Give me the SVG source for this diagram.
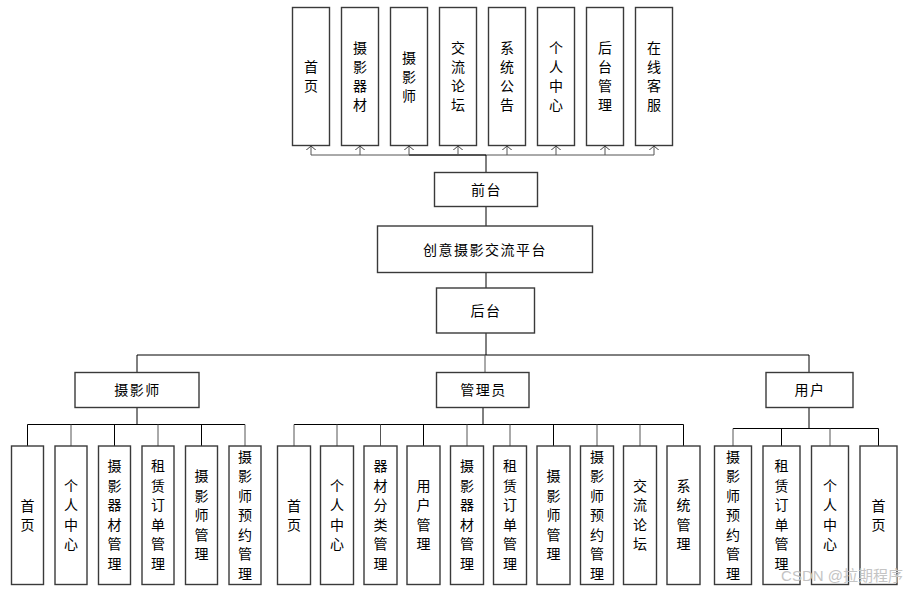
<svg xmlns="http://www.w3.org/2000/svg" width="920" height="593" viewBox="0 0 920 593">
<style>
.box{fill:#fff;stroke:#3a3a3a;stroke-width:1.4}
.t{font-family:"Noto Sans CJK SC","Liberation Sans",sans-serif;font-size:14px;fill:#000;text-anchor:middle}
.h{letter-spacing:1.5px}
.ln{stroke:#000;stroke-width:1;fill:none}
.lg{stroke:#555;stroke-width:1;fill:none}
.wm{font-family:"Liberation Sans","Noto Sans CJK SC",sans-serif;font-size:15px;fill:#c4c4c4;text-anchor:end}
</style>
<defs>
<marker id="arr" viewBox="0 0 4.5 10" refX="4.3" refY="5" markerWidth="4.5" markerHeight="10" markerUnits="userSpaceOnUse" orient="auto">
<path d="M0,0 L4.3,5 L0,10" fill="none" stroke="#444" stroke-width="1"/>
</marker>
</defs>
<rect width="920" height="593" fill="#fff"/>
<g id="connectors">
<line class="lg" x1="311" y1="155" x2="654" y2="155"/>
<line class="ln" x1="409" y1="155" x2="486" y2="155" stroke-width="1.5"/>
<line class="ln" x1="486" y1="172.5" x2="486" y2="155" stroke-width="2.5"/>
<line class="lg" x1="311" y1="155" x2="311" y2="146" marker-end="url(#arr)"/>
<line class="lg" x1="360" y1="155" x2="360" y2="146" marker-end="url(#arr)"/>
<line class="lg" x1="409" y1="155" x2="409" y2="146" marker-end="url(#arr)"/>
<line class="lg" x1="458" y1="155" x2="458" y2="146" marker-end="url(#arr)"/>
<line class="lg" x1="507" y1="155" x2="507" y2="146" marker-end="url(#arr)"/>
<line class="lg" x1="556" y1="155" x2="556" y2="146" marker-end="url(#arr)"/>
<line class="lg" x1="605" y1="155" x2="605" y2="146" marker-end="url(#arr)"/>
<line class="lg" x1="654" y1="155" x2="654" y2="146" marker-end="url(#arr)"/>
<line class="ln" x1="486" y1="206.5" x2="486" y2="226"/>
<line class="ln" x1="486" y1="272.5" x2="486" y2="288"/>
<line class="ln" x1="486" y1="333" x2="486" y2="355"/>
<line class="ln" x1="137" y1="355" x2="809" y2="355"/>
<line class="ln" x1="137" y1="355" x2="137" y2="372.5"/>
<line class="lg" x1="485" y1="355" x2="485" y2="372.5"/>
<line class="ln" x1="809" y1="355" x2="809" y2="372.5"/>
<line class="ln" x1="137" y1="407.5" x2="137" y2="424.5" stroke-width="1.8"/>
<line class="ln" x1="27.5" y1="424.5" x2="245" y2="424.5"/>
<line class="ln" x1="27.5" y1="424.5" x2="27.5" y2="446"/>
<line class="lg" x1="71" y1="424.5" x2="71" y2="446"/>
<line class="ln" x1="114.5" y1="424.5" x2="114.5" y2="446"/>
<line class="lg" x1="158" y1="424.5" x2="158" y2="446"/>
<line class="ln" x1="201.5" y1="424.5" x2="201.5" y2="446"/>
<line class="lg" x1="245" y1="424.5" x2="245" y2="446"/>
<line class="ln" x1="483" y1="407.5" x2="483" y2="424.5" stroke-width="2"/>
<line class="ln" x1="294" y1="424.5" x2="683.5" y2="424.5"/>
<line class="lg" x1="294" y1="424.5" x2="294" y2="446"/>
<line class="lg" x1="337" y1="424.5" x2="337" y2="446"/>
<line class="lg" x1="380.5" y1="424.5" x2="380.5" y2="446"/>
<line class="ln" x1="423.5" y1="424.5" x2="423.5" y2="446"/>
<line class="lg" x1="467" y1="424.5" x2="467" y2="446"/>
<line class="lg" x1="510" y1="424.5" x2="510" y2="446"/>
<line class="ln" x1="553.5" y1="424.5" x2="553.5" y2="446"/>
<line class="lg" x1="597" y1="424.5" x2="597" y2="446"/>
<line class="lg" x1="640" y1="424.5" x2="640" y2="446"/>
<line class="ln" x1="683.5" y1="424.5" x2="683.5" y2="446"/>
<line class="ln" x1="809" y1="407.5" x2="809" y2="428.5" stroke-width="1.5"/>
<line class="ln" x1="733" y1="428.5" x2="878.5" y2="428.5"/>
<line class="lg" x1="733" y1="428.5" x2="733" y2="446"/>
<line class="ln" x1="781.5" y1="428.5" x2="781.5" y2="446"/>
<line class="lg" x1="830" y1="428.5" x2="830" y2="446"/>
<line class="ln" x1="878.5" y1="428.5" x2="878.5" y2="446"/>
</g>
<g id="top-1"><rect class="box" x="292.5" y="7.5" width="37" height="138"/><text class="t" x="311" y="72">首<tspan x="311" dy="19">页</tspan></text></g>
<g id="top-2"><rect class="box" x="341.5" y="7.5" width="37" height="138"/><text class="t" x="360" y="53">摄<tspan x="360" dy="19">影</tspan><tspan x="360" dy="19">器</tspan><tspan x="360" dy="19">材</tspan></text></g>
<g id="top-3"><rect class="box" x="390.5" y="7.5" width="37" height="138"/><text class="t" x="409" y="62.5">摄<tspan x="409" dy="19">影</tspan><tspan x="409" dy="19">师</tspan></text></g>
<g id="top-4"><rect class="box" x="439.5" y="7.5" width="37" height="138"/><text class="t" x="458" y="53">交<tspan x="458" dy="19">流</tspan><tspan x="458" dy="19">论</tspan><tspan x="458" dy="19">坛</tspan></text></g>
<g id="top-5"><rect class="box" x="488.5" y="7.5" width="37" height="138"/><text class="t" x="507" y="53">系<tspan x="507" dy="19">统</tspan><tspan x="507" dy="19">公</tspan><tspan x="507" dy="19">告</tspan></text></g>
<g id="top-6"><rect class="box" x="537.5" y="7.5" width="37" height="138"/><text class="t" x="556" y="53">个<tspan x="556" dy="19">人</tspan><tspan x="556" dy="19">中</tspan><tspan x="556" dy="19">心</tspan></text></g>
<g id="top-7"><rect class="box" x="586.5" y="7.5" width="37" height="138"/><text class="t" x="605" y="53">后<tspan x="605" dy="19">台</tspan><tspan x="605" dy="19">管</tspan><tspan x="605" dy="19">理</tspan></text></g>
<g id="top-8"><rect class="box" x="635.5" y="7.5" width="37" height="138"/><text class="t" x="654" y="53">在<tspan x="654" dy="19">线</tspan><tspan x="654" dy="19">客</tspan><tspan x="654" dy="19">服</tspan></text></g>
<g id="qiantai"><rect class="box" x="434.5" y="172.5" width="103" height="34"/><text class="t h" x="486.5" y="194.5">前台</text></g>
<g id="platform"><rect class="box" x="377.5" y="226" width="215" height="46.5"/><text class="t h" x="485" y="254.5">创意摄影交流平台</text></g>
<g id="houtai"><rect class="box" x="436.5" y="288" width="98" height="45"/><text class="t h" x="486" y="315.5">后台</text></g>
<g id="photographer"><rect class="box" x="75" y="372.5" width="124" height="35"/><text class="t h" x="137.5" y="395">摄影师</text></g>
<g id="admin"><rect class="box" x="436.5" y="372.5" width="92.5" height="35"/><text class="t h" x="483.5" y="395">管理员</text></g>
<g id="user"><rect class="box" x="766" y="372.5" width="87" height="35"/><text class="t h" x="810" y="395">用户</text></g>
<g id="p-1"><rect class="box" x="11.5" y="446" width="32" height="138.5"/><text class="t" x="27.5" y="510.5">首<tspan x="27.5" dy="19.5">页</tspan></text></g>
<g id="p-2"><rect class="box" x="55" y="446" width="32" height="138.5"/><text class="t" x="71" y="490.75">个<tspan x="71" dy="19.5">人</tspan><tspan x="71" dy="19.5">中</tspan><tspan x="71" dy="19.5">心</tspan></text></g>
<g id="p-3"><rect class="box" x="98.5" y="446" width="32" height="138.5"/><text class="t" x="114.5" y="471.25">摄<tspan x="114.5" dy="19.5">影</tspan><tspan x="114.5" dy="19.5">器</tspan><tspan x="114.5" dy="19.5">材</tspan><tspan x="114.5" dy="19.5">管</tspan><tspan x="114.5" dy="19.5">理</tspan></text></g>
<g id="p-4"><rect class="box" x="142" y="446" width="32" height="138.5"/><text class="t" x="158" y="471.25">租<tspan x="158" dy="19.5">赁</tspan><tspan x="158" dy="19.5">订</tspan><tspan x="158" dy="19.5">单</tspan><tspan x="158" dy="19.5">管</tspan><tspan x="158" dy="19.5">理</tspan></text></g>
<g id="p-5"><rect class="box" x="185.5" y="446" width="32" height="138.5"/><text class="t" x="201.5" y="481">摄<tspan x="201.5" dy="19.5">影</tspan><tspan x="201.5" dy="19.5">师</tspan><tspan x="201.5" dy="19.5">管</tspan><tspan x="201.5" dy="19.5">理</tspan></text></g>
<g id="p-6"><rect class="box" x="229" y="446" width="32" height="138.5"/><text class="t" x="245" y="461.5">摄<tspan x="245" dy="19.5">影</tspan><tspan x="245" dy="19.5">师</tspan><tspan x="245" dy="19.5">预</tspan><tspan x="245" dy="19.5">约</tspan><tspan x="245" dy="19.5">管</tspan><tspan x="245" dy="19.5">理</tspan></text></g>
<g id="a-1"><rect class="box" x="277.5" y="446" width="33" height="138.5"/><text class="t" x="294" y="510.5">首<tspan x="294" dy="19.5">页</tspan></text></g>
<g id="a-2"><rect class="box" x="320.5" y="446" width="33" height="138.5"/><text class="t" x="337" y="490.75">个<tspan x="337" dy="19.5">人</tspan><tspan x="337" dy="19.5">中</tspan><tspan x="337" dy="19.5">心</tspan></text></g>
<g id="a-3"><rect class="box" x="364" y="446" width="33" height="138.5"/><text class="t" x="380.5" y="471.25">器<tspan x="380.5" dy="19.5">材</tspan><tspan x="380.5" dy="19.5">分</tspan><tspan x="380.5" dy="19.5">类</tspan><tspan x="380.5" dy="19.5">管</tspan><tspan x="380.5" dy="19.5">理</tspan></text></g>
<g id="a-4"><rect class="box" x="407" y="446" width="33" height="138.5"/><text class="t" x="423.5" y="490.75">用<tspan x="423.5" dy="19.5">户</tspan><tspan x="423.5" dy="19.5">管</tspan><tspan x="423.5" dy="19.5">理</tspan></text></g>
<g id="a-5"><rect class="box" x="450.5" y="446" width="33" height="138.5"/><text class="t" x="467" y="471.25">摄<tspan x="467" dy="19.5">影</tspan><tspan x="467" dy="19.5">器</tspan><tspan x="467" dy="19.5">材</tspan><tspan x="467" dy="19.5">管</tspan><tspan x="467" dy="19.5">理</tspan></text></g>
<g id="a-6"><rect class="box" x="493.5" y="446" width="33" height="138.5"/><text class="t" x="510" y="471.25">租<tspan x="510" dy="19.5">赁</tspan><tspan x="510" dy="19.5">订</tspan><tspan x="510" dy="19.5">单</tspan><tspan x="510" dy="19.5">管</tspan><tspan x="510" dy="19.5">理</tspan></text></g>
<g id="a-7"><rect class="box" x="537" y="446" width="33" height="138.5"/><text class="t" x="553.5" y="481">摄<tspan x="553.5" dy="19.5">影</tspan><tspan x="553.5" dy="19.5">师</tspan><tspan x="553.5" dy="19.5">管</tspan><tspan x="553.5" dy="19.5">理</tspan></text></g>
<g id="a-8"><rect class="box" x="580.5" y="446" width="33" height="138.5"/><text class="t" x="597" y="461.5">摄<tspan x="597" dy="19.5">影</tspan><tspan x="597" dy="19.5">师</tspan><tspan x="597" dy="19.5">预</tspan><tspan x="597" dy="19.5">约</tspan><tspan x="597" dy="19.5">管</tspan><tspan x="597" dy="19.5">理</tspan></text></g>
<g id="a-9"><rect class="box" x="623.5" y="446" width="33" height="138.5"/><text class="t" x="640" y="490.75">交<tspan x="640" dy="19.5">流</tspan><tspan x="640" dy="19.5">论</tspan><tspan x="640" dy="19.5">坛</tspan></text></g>
<g id="a-10"><rect class="box" x="667" y="446" width="33" height="138.5"/><text class="t" x="683.5" y="490.75">系<tspan x="683.5" dy="19.5">统</tspan><tspan x="683.5" dy="19.5">管</tspan><tspan x="683.5" dy="19.5">理</tspan></text></g>
<g id="u-1"><rect class="box" x="714.5" y="446" width="37" height="138.5"/><text class="t" x="733" y="461.5">摄<tspan x="733" dy="19.5">影</tspan><tspan x="733" dy="19.5">师</tspan><tspan x="733" dy="19.5">预</tspan><tspan x="733" dy="19.5">约</tspan><tspan x="733" dy="19.5">管</tspan><tspan x="733" dy="19.5">理</tspan></text></g>
<g id="u-2"><rect class="box" x="763" y="446" width="37" height="138.5"/><text class="t" x="781.5" y="471.25">租<tspan x="781.5" dy="19.5">赁</tspan><tspan x="781.5" dy="19.5">订</tspan><tspan x="781.5" dy="19.5">单</tspan><tspan x="781.5" dy="19.5">管</tspan><tspan x="781.5" dy="19.5">理</tspan></text></g>
<g id="u-3"><rect class="box" x="811.5" y="446" width="37" height="138.5"/><text class="t" x="830" y="490.75">个<tspan x="830" dy="19.5">人</tspan><tspan x="830" dy="19.5">中</tspan><tspan x="830" dy="19.5">心</tspan></text></g>
<g id="u-4"><rect class="box" x="860" y="446" width="37" height="138.5"/><text class="t" x="878.5" y="510.5">首<tspan x="878.5" dy="19.5">页</tspan></text></g>
<text class="wm" x="903" y="581">CSDN @拉期程序</text>
</svg>
